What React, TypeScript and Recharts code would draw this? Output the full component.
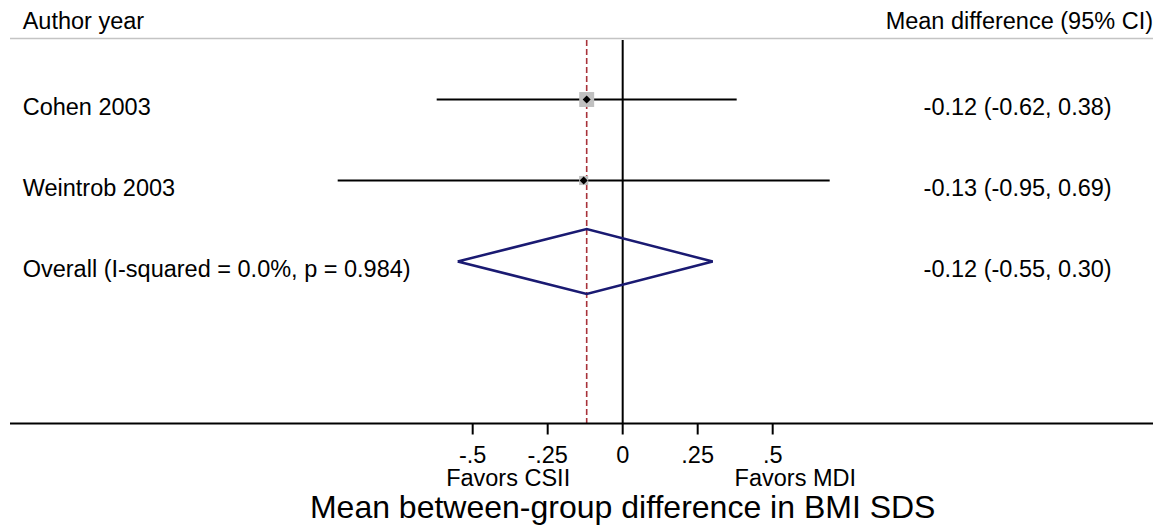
import React from "react"
import { ComposedChart, Line, ReferenceDot, ReferenceLine, Scatter, XAxis, YAxis } from "recharts"

// study rows
const studies = ["Cohen 2003", "Weintrob 2003"]
const estimates = [-0.12, -0.13]
const lower = [-0.62, -0.95]
const upper = [0.38, 0.69]
const weights = [72.9, 27.1]

// pooled estimate
const overallLabel = "Overall (I-squared = 0.0%, p = 0.984)"
const overall = { est: -0.12, lo: -0.55, hi: 0.3 }

const tickValues = [-0.5, -0.25, 0, 0.25, 0.5]
const tickLabels = ["-.5", "-.25", "0", ".25", ".5"]

const xMin = -2.0423
const xMax = 1.7677
const labelX = -2.0
const ciTextX = 1.63

const FONT = "'Liberation Sans', Arial, sans-serif"
const fmt = (v: number) => v.toFixed(2)

const studyPoints = studies.map((s, i) => ({ x: estimates[i], y: i + 1, w: weights[i] }))
const overallRow = studies.length + 1
const diamond = [
  { x: overall.lo, y: overallRow },
  { x: overall.est, y: overallRow - 0.4 },
  { x: overall.hi, y: overallRow },
  { x: overall.est, y: overallRow + 0.4 },
  { x: overall.lo, y: overallRow },
]

type TextItem = { x: number; y: number; text: string; anchor: "start" | "end" | "middle"; dy: number; size: number }

const texts: TextItem[] = [
  { x: labelX, y: 0, text: "Author year", anchor: "start", dy: 10, size: 23.5 },
  { x: xMax, y: 0, text: "Mean difference (95% CI)", anchor: "end", dy: 10, size: 23.5 },
  ...studies.map((s, i) => ({ x: labelX, y: i + 1, text: s, anchor: "start" as const, dy: 15.6, size: 23.5 })),
  ...studies.map((s, i) => ({
    x: ciTextX,
    y: i + 1,
    text: `${fmt(estimates[i])} (${fmt(lower[i])}, ${fmt(upper[i])})`,
    anchor: "end" as const,
    dy: 15.6,
    size: 23.5,
  })),
  { x: labelX, y: overallRow, text: overallLabel, anchor: "start", dy: 15.6, size: 23.5 },
  {
    x: ciTextX,
    y: overallRow,
    text: `${fmt(overall.est)} (${fmt(overall.lo)}, ${fmt(overall.hi)})`,
    anchor: "end",
    dy: 15.6,
    size: 23.5,
  },
  { x: -0.175, y: 5, text: "Favors CSII", anchor: "end", dy: 62, size: 23.5 },
  { x: 0.373, y: 5, text: "Favors MDI", anchor: "start", dy: 62, size: 23.5 },
  { x: 0, y: 5, text: "Mean between-group difference in BMI SDS", anchor: "middle", dy: 94.5, size: 32 },
]

const StudyMarker = (props: any) => {
  const { cx, cy, payload } = props
  const s = Math.sqrt(payload.w) * 1.75
  const d = 4
  return (
    <g>
      <rect x={cx - s / 2} y={cy - s / 2} width={s} height={s} fill="#c0c0c0" />
      <polygon points={`${cx - d},${cy} ${cx},${cy - d} ${cx + d},${cy} ${cx},${cy + d}`} fill="#000" />
    </g>
  )
}

const AxisTick = (props: any) => {
  const { x, y, payload } = props
  const i = tickValues.indexOf(payload.value)
  return (
    <text x={x} y={y} dy={28} textAnchor="middle" fontFamily={FONT} fontSize={23.5} fill="#000">
      {tickLabels[i]}
    </text>
  )
}

export default function App() {
  return (
    <div style={{ position: "absolute", left: 0, top: 0, width: 1162, height: 527, background: "#fff" }}>
      <ComposedChart width={1162} height={527} margin={{ top: 18.5, right: 9, bottom: 3.5, left: 10 }}>
        <XAxis
          type="number"
          dataKey="x"
          domain={[xMin, xMax]}
          allowDataOverflow
          ticks={tickValues}
          interval={0}
          height={100}
          tickSize={11}
          tickMargin={0}
          axisLine={{ stroke: "#000", strokeWidth: 2 }}
          tickLine={{ stroke: "#000", strokeWidth: 2 }}
          tick={<AxisTick />}
        />
        <YAxis type="number" dataKey="y" domain={[0, 5]} reversed hide allowDataOverflow />

        <ReferenceLine
          segment={[{ x: xMin, y: 0.247 }, { x: xMax, y: 0.247 }]}
          stroke="#c4c4c4"
          strokeWidth={1.5}
          ifOverflow="visible"
        />
        <ReferenceLine
          segment={[{ x: 0, y: 0.265 }, { x: 0, y: 5 }]}
          stroke="#000"
          strokeWidth={2}
          ifOverflow="visible"
        />
        <ReferenceLine
          segment={[{ x: overall.est, y: 0.265 }, { x: overall.est, y: 5 }]}
          stroke="#a8323a"
          strokeWidth={1.6}
          strokeDasharray="6 3"
          ifOverflow="visible"
        />
        {studies.map((s, i) => (
          <ReferenceLine
            key={s}
            segment={[{ x: lower[i], y: i + 1 }, { x: upper[i], y: i + 1 }]}
            stroke="#000"
            strokeWidth={2}
            ifOverflow="visible"
          />
        ))}

        <Line
          data={diamond}
          dataKey="y"
          type="linear"
          stroke="#1a1a72"
          strokeWidth={2.5}
          strokeLinejoin="miter"
          dot={false}
          activeDot={false}
          isAnimationActive={false}
        />
        <Scatter data={studyPoints} dataKey="y" shape={<StudyMarker />} isAnimationActive={false} />

        {texts.map((t, i) => (
          <ReferenceDot
            key={i}
            x={t.x}
            y={t.y}
            r={0}
            ifOverflow="visible"
            shape={(p: any) => (
              <text
                x={p.cx}
                y={p.cy}
                dy={t.dy}
                textAnchor={t.anchor}
                fontFamily={FONT}
                fontSize={t.size}
                fill="#000"
              >
                {t.text}
              </text>
            )}
          />
        ))}
      </ComposedChart>
    </div>
  )
}
